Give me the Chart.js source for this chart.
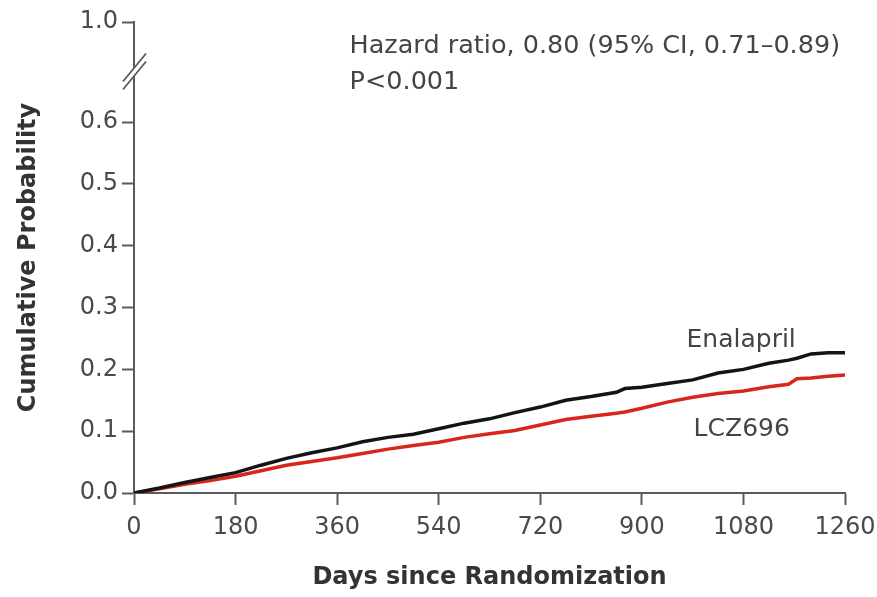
<!DOCTYPE html>
<html>
<head>
<meta charset="utf-8">
<script src="https://cdn.jsdelivr.net/npm/chart.js@4"></script>
<style>
  html, body { margin: 0; padding: 0; background: #fff; }
  #wrap { width: 877px; height: 597px; }
</style>
</head>
<body>
<div id="wrap"><canvas id="kmChart" width="877" height="597"></canvas></div>
<script>
// days since randomization (x)
const days = [0, 45, 90, 135, 180, 225, 270, 315, 360, 405, 450, 495, 540, 585, 630, 675,
    720, 765, 810, 855, 870, 900, 945, 990, 1035, 1080, 1125, 1160, 1175, 1200, 1230, 1260];

// cumulative probability
const enalapril = [0, 0.008, 0.017, 0.025, 0.033, 0.045, 0.056, 0.065, 0.073, 0.083, 0.090, 0.095,
    0.104, 0.113, 0.120, 0.130, 0.139, 0.150, 0.156, 0.163, 0.169, 0.171, 0.177, 0.183, 0.194,
    0.200, 0.210, 0.215, 0.218, 0.225, 0.227, 0.227];
const lcz696 = [0, 0.007, 0.014, 0.020, 0.027, 0.036, 0.045, 0.051, 0.057, 0.064, 0.071, 0.077,
    0.082, 0.090, 0.096, 0.101, 0.110, 0.119, 0.124, 0.129, 0.131, 0.137, 0.147, 0.155, 0.161,
    0.165, 0.172, 0.176, 0.185, 0.186, 0.189, 0.191];

const xTicks = [0, 180, 360, 540, 720, 900, 1080, 1260];
const yTicks = [0, 0.1, 0.2, 0.3, 0.4, 0.5, 0.6];
// the axis is broken above 0.6; 1.0 sits at this position on the scale
const yBreakTop = 0.762;
const yBreakAt = 0.682;

const hazardText = ['Hazard ratio, 0.80 (95% CI, 0.71\u20130.89)', 'P<0.001'];

const FONT = "'DejaVu Sans', sans-serif";
const AXIS_COLOR = '#5a5a5a';

function toPoints(values) {
    return days.map((d, i) => ({ x: d, y: values[i] }));
}

// break marks on the y axis + in-plot labels
const overlayPlugin = {
    id: 'overlay',
    afterDraw(chart) {
        const ctx = chart.ctx;
        const xs = chart.scales.x;
        const ys = chart.scales.y;
        const ax = xs.left;
        const yc = ys.getPixelForValue(yBreakAt);

        ctx.save();
        // clear a gap in the axis
        ctx.fillStyle = '#fff';
        ctx.beginPath();
        ctx.moveTo(ax - 10, yc + 17);
        ctx.lineTo(ax + 10, yc - 8);
        ctx.lineTo(ax + 10, yc - 16);
        ctx.lineTo(ax - 10, yc + 9);
        ctx.closePath();
        ctx.fill();
        ctx.strokeStyle = AXIS_COLOR;
        ctx.lineWidth = 1.8;
        ctx.beginPath();
        ctx.moveTo(ax - 11, yc + 18);
        ctx.lineTo(ax + 12, yc - 10);
        ctx.moveTo(ax - 11, yc + 10);
        ctx.lineTo(ax + 12, yc - 18);
        ctx.stroke();

        // texts
        ctx.fillStyle = '#444';
        ctx.font = '25.5px ' + FONT;
        ctx.textBaseline = 'middle';
        ctx.textAlign = 'left';
        const hx = xs.getPixelForValue(382);
        ctx.fillText(hazardText[0], hx, ys.getPixelForValue(0.722));
        ctx.fillText(hazardText[1], hx, ys.getPixelForValue(0.665));

        ctx.font = '25px ' + FONT;
        ctx.textAlign = 'center';
        ctx.fillText('Enalapril', xs.getPixelForValue(1076), ys.getPixelForValue(0.247));
        ctx.fillText('LCZ696', xs.getPixelForValue(1077), ys.getPixelForValue(0.102));
        ctx.restore();
    }
};

const ctx = document.getElementById('kmChart').getContext('2d');
new Chart(ctx, {
    type: 'line',
    data: {
        datasets: [
            {
                label: 'Enalapril',
                data: toPoints(enalapril),
                borderColor: '#141414',
                borderWidth: 3.5,
                pointRadius: 0,
                tension: 0
            },
            {
                label: 'LCZ696',
                data: toPoints(lcz696),
                borderColor: '#d9261c',
                borderWidth: 3.5,
                pointRadius: 0,
                tension: 0
            }
        ]
    },
    options: {
        responsive: false,
        animation: false,
        devicePixelRatio: 1,
        layout: { padding: { top: 22, right: 0, bottom: 0, left: 0 } },
        plugins: {
            legend: { display: false },
            tooltip: { enabled: false }
        },
        scales: {
            x: {
                type: 'linear',
                min: 0,
                max: 1260,
                afterBuildTicks: scale => { scale.ticks = xTicks.map(v => ({ value: v })); },
                afterFit: scale => {
                    scale.height = 104;
                    scale.paddingLeft = 0;
                    scale.paddingRight = 32;
                },
                ticks: {
                    color: '#4a4a4a',
                    font: { family: FONT, size: 24 },
                    padding: 8,
                    maxRotation: 0,
                    autoSkip: false,
                    callback: v => String(v)
                },
                grid: {
                    drawOnChartArea: false,
                    tickLength: 12,
                    tickWidth: 2,
                    tickColor: AXIS_COLOR
                },
                border: { display: true, color: AXIS_COLOR, width: 2 },
                title: {
                    display: true,
                    text: 'Days since Randomization',
                    color: '#333',
                    font: { family: FONT, size: 24, weight: 'bold' },
                    padding: { top: 0, bottom: 5 }
                }
            },
            y: {
                min: 0,
                max: yBreakTop,
                afterBuildTicks: scale => {
                    scale.ticks = yTicks.concat([yBreakTop]).map(v => ({ value: v }));
                },
                afterFit: scale => { scale.width = 134; },
                ticks: {
                    color: '#4a4a4a',
                    font: { family: FONT, size: 24 },
                    padding: 4,
                    autoSkip: false,
                    callback: v => (v > 0.7 ? '1.0' : Number(v).toFixed(1))
                },
                grid: {
                    drawOnChartArea: false,
                    tickLength: 12,
                    tickWidth: 2,
                    tickColor: AXIS_COLOR
                },
                border: { display: true, color: AXIS_COLOR, width: 2 },
                title: {
                    display: true,
                    text: 'Cumulative Probability',
                    color: '#333',
                    font: { family: FONT, size: 24, weight: 'bold' },
                    padding: { top: 14, bottom: 0 }
                }
            }
        }
    },
    plugins: [overlayPlugin]
});
</script>
</body>
</html>
